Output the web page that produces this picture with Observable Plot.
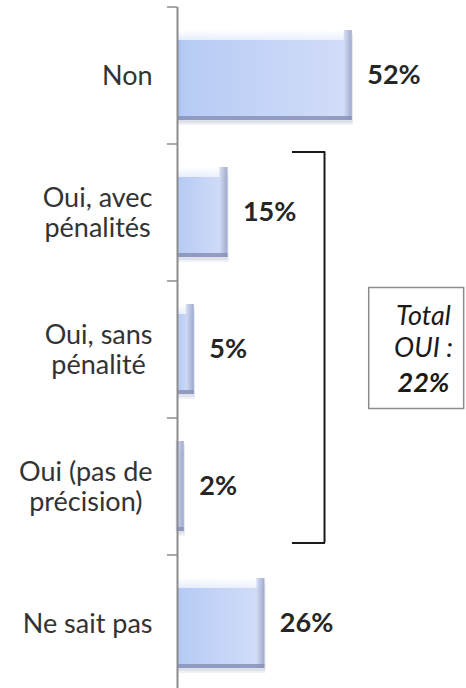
<!DOCTYPE html>
<html><head><meta charset="utf-8">
<script src="https://cdn.jsdelivr.net/npm/d3@7"></script>
<script src="https://cdn.jsdelivr.net/npm/@observablehq/plot@0.6"></script>
<style>body{margin:0;background:#fff;overflow:hidden}</style>
</head><body><div id="chart"></div>
<script>
// ---- data ----
const categories = ["Non", "Oui, avec\npénalités", "Oui, sans\npénalité", "Oui (pas de\nprécision)", "Ne sait pas"];
const values = [52, 15, 5, 2, 26];
const valueLabels = ["52%", "15%", "5%", "2%", "26%"];
const totalLines = ["Total", "OUI :", "22%"];
const bracketCategories = [categories[1], categories[3]];
const boxCategory = categories[2];

const data = categories.map((c, i) => ({cat: c, value: values[i], label: valueLabels[i]}));

// ---- styling ----
const FONT = "Lato";
const LABEL_SIZE = 27;
const W = 466, H = 688;
const step = 137;

const ctx = document.createElement("canvas").getContext("2d");
ctx.font = `${LABEL_SIZE}px ${FONT}`;
const maxWidth = (s) => Math.max(...s.split("\n").map(l => ctx.measureText(l).width));

const defs = () => {
  const svg = d3.create("svg:defs");
  const g = svg.append("linearGradient").attr("id", "barGrad").attr("x1", 0).attr("x2", 1).attr("y1", 0).attr("y2", 0);
  g.append("stop").attr("offset", "0%").attr("stop-color", "#9fb9ec");
  g.append("stop").attr("offset", "3%").attr("stop-color", "#b6cbf4");
  g.append("stop").attr("offset", "50%").attr("stop-color", "#c5d4f7");
  g.append("stop").attr("offset", "100%").attr("stop-color", "#d2ddf8");
  const t = svg.append("linearGradient").attr("id", "topGrad").attr("x1", 0).attr("x2", 0).attr("y1", 0).attr("y2", 1);
  t.append("stop").attr("offset", "0%").attr("stop-color", "#ffffff").attr("stop-opacity", 1);
  t.append("stop").attr("offset", "100%").attr("stop-color", "#f2f6fe").attr("stop-opacity", 0.8);
  const r = svg.append("linearGradient").attr("id", "rightGrad").attr("x1", 0).attr("x2", 1).attr("y1", 0).attr("y2", 0);
  r.append("stop").attr("offset", "0%").attr("stop-color", "#d3dcf4");
  r.append("stop").attr("offset", "100%").attr("stop-color", "#98a3c8");
  return svg.node();
};

const barOpts = {x: "value", y: "cat"};
const chart = Plot.plot({
  width: W,
  height: H,
  marginLeft: 177,
  marginRight: 0,
  marginTop: 7,
  marginBottom: 0,
  style: {fontFamily: FONT, background: "white"},
  x: {domain: [0, 86], axis: null},
  y: {type: "band", domain: categories, range: [7, 7 + 5 * step], paddingInner: 0.343, paddingOuter: 0.1715, axis: null},
  marks: [
    defs,
    // shadow
    Plot.barX(data, {...barOpts, fill: "#6d7699", fillOpacity: 0.10, dy: 5, dx: 1}),
    Plot.barX(data, {...barOpts, fill: "#6d7699", fillOpacity: 0.12, dy: 3, dx: 1}),
    // bar body
    Plot.barX(data, {...barOpts, fill: "url(#barGrad)"}),
    // top bevel highlight
    Plot.barX(data, {...barOpts, fill: "url(#topGrad)", insetBottom: 80}),
    // right bevel
    Plot.barX(data, {x1: "value", x2: "value", y: "cat", insetLeft: -8, fill: "url(#rightGrad)", fillOpacity: 0.9}),
    // bottom bevel shade
    Plot.barX(data, {...barOpts, fill: "#8892b8", fillOpacity: 0.85, insetTop: 86}),
    // axis line and ticks
    Plot.ruleX([0], {stroke: "#8c8c8c", strokeWidth: 2}),
    Plot.ruleY(categories, {y: d => d, x1: -3, x2: 0, dy: -step / 2, stroke: "#8c8c8c", strokeWidth: 1.5}),
    // category labels
    ...categories.map(c => Plot.text([c], {
      x: 0, y: d => d, text: d => d, textAnchor: "middle", lineAnchor: "middle",
      dx: -(25 + maxWidth(c) / 2), fontSize: LABEL_SIZE, lineHeight: 1.12, fill: "#333333"
    })),
    // value labels
    Plot.text(data, {x: "value", y: "cat", text: "label", dx: 15, textAnchor: "start", lineAnchor: "middle",
      fontSize: 27, fontWeight: "bold", fill: "#262626"}),
    // bracket
    Plot.ruleX([43.75], {x: d => d, y1: () => bracketCategories[0], y2: () => bracketCategories[1], insetTop: -15.5, insetBottom: -11.5, stroke: "#1a1a1a", strokeWidth: 2}),
    Plot.ruleY([bracketCategories[0]], {y: d => d, x1: 34.2, x2: 44.05, dy: -60.5, stroke: "#1a1a1a", strokeWidth: 2}),
    Plot.ruleY([bracketCategories[1]], {y: d => d, x1: 34.2, x2: 44.05, dy: 56.5, stroke: "#1a1a1a", strokeWidth: 2}),
    // total box
    Plot.barX([boxCategory], {y: d => d, x1: 57.05, x2: 85.3, insetTop: -16.5, insetBottom: -14.5, fill: "white", stroke: "#8c8c8c", strokeWidth: 1.5}),
    Plot.text([boxCategory], {y: d => d, x: 73.2, text: () => totalLines[0], dy: -33, fontSize: 27, fontStyle: "italic", fill: "#1a1a1a", lineAnchor: "middle"}),
    Plot.text([boxCategory], {y: d => d, x: 73.2, text: () => totalLines[1], dy: -1, fontSize: 27, fontStyle: "italic", fill: "#1a1a1a", lineAnchor: "middle"}),
    Plot.text([boxCategory], {y: d => d, x: 73.2, text: () => totalLines[2], dy: 34, fontSize: 27, fontStyle: "italic", fontWeight: "bold", fill: "#1a1a1a", lineAnchor: "middle"})
  ]
});
document.getElementById("chart").appendChild(chart);
</script>
</body></html>
